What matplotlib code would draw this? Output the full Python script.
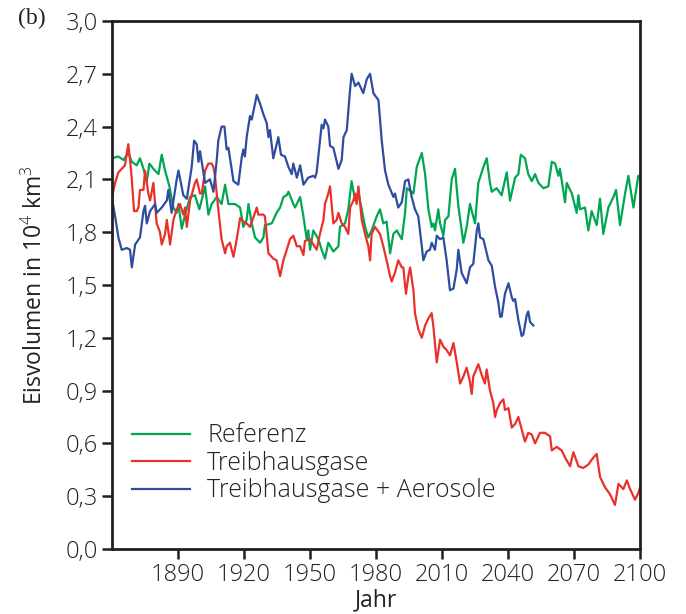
import matplotlib
matplotlib.use("Agg")
import matplotlib.pyplot as plt
from matplotlib.ticker import FuncFormatter

# (year, ice volume in 10^4 km^3)
referenz = [
    (1860, 2.22), (1862.9, 2.23), (1865.2, 2.21), (1867.4, 2.25), (1869.0, 2.20), (1871.2, 2.18),
    (1872.7, 2.22), (1874.3, 2.16), (1875.8, 2.09), (1877.0, 2.19), (1878.8, 2.16), (1881.1, 2.13),
    (1882.6, 2.24), (1884.1, 2.15), (1886.1, 2.06), (1887.9, 1.94), (1889.4, 1.91), (1890.2, 1.96),
    (1891.7, 1.82), (1893.2, 1.90), (1895.5, 2.00), (1897.7, 2.01), (1899.7, 1.93), (1902.3, 2.06),
    (1903.8, 1.90), (1905.3, 1.96), (1907.6, 2.00), (1909.8, 1.96), (1911.4, 2.07), (1912.9, 1.96),
    (1915.9, 1.96), (1918.2, 1.94), (1919.7, 1.83), (1921.2, 1.87), (1922.0, 1.96), (1923.5, 1.85),
    (1925.0, 1.77), (1927.3, 1.74), (1928.8, 1.77), (1929.5, 1.84), (1932.6, 1.85), (1934.8, 1.91),
    (1936.4, 1.94), (1937.9, 2.00), (1939.4, 2.01), (1940.2, 2.03), (1942.4, 1.96), (1943.2, 1.94),
    (1945.5, 2.00), (1947.0, 1.89), (1948.5, 1.76), (1949.2, 1.81), (1950.0, 1.70), (1951.5, 1.81),
    (1953.8, 1.76), (1955.3, 1.70), (1956.8, 1.65), (1958.3, 1.74), (1960.6, 1.69), (1962.9, 1.72),
    (1963.6, 1.83), (1965.9, 1.85), (1967.4, 1.93), (1968.9, 2.09), (1970.5, 1.98), (1972.0, 2.02),
    (1973.5, 1.93), (1975.0, 1.83), (1976.5, 1.77), (1978.0, 1.81), (1980.3, 1.89), (1981.8, 1.93),
    (1983.3, 1.85), (1984.8, 1.86), (1986.4, 1.68), (1987.9, 1.79), (1989.4, 1.81), (1991.7, 1.76),
    (1993.2, 1.91), (1994.0, 2.05), (1997.0, 2.02), (1998.5, 2.17), (2000.8, 2.25), (2002.3, 2.13),
    (2003.8, 1.93), (2005.3, 1.83), (2006.1, 1.85), (2006.8, 1.81), (2008.3, 1.93), (2009.1, 1.85),
    (2010.6, 1.78), (2011.4, 1.87), (2012.9, 1.89), (2014.4, 2.10), (2015.9, 2.16), (2017.4, 1.95),
    (2019.7, 1.74), (2021.2, 1.83), (2022.7, 1.96), (2025.0, 1.85), (2026.5, 2.08), (2028.8, 2.17),
    (2030.3, 2.22), (2031.8, 2.08), (2032.6, 2.03), (2034.8, 2.05), (2037.1, 2.01), (2039.4, 2.14),
    (2040.9, 1.98), (2043.2, 2.11), (2044.7, 2.13), (2045.8, 2.24), (2047.7, 2.22), (2049.2, 2.13),
    (2050.8, 2.09), (2052.3, 2.13), (2053.8, 2.08), (2056.1, 2.05), (2058.3, 2.06), (2059.9, 2.20),
    (2061.4, 2.19), (2062.9, 2.12), (2063.6, 2.16), (2065.9, 1.97), (2066.7, 2.08), (2069.0, 2.02),
    (2071.2, 1.91), (2072.0, 2.01), (2072.7, 1.93), (2075.0, 1.94), (2076.5, 1.81), (2078.0, 1.92),
    (2080.3, 1.84), (2081.8, 1.99), (2083.3, 1.79), (2085.6, 1.94), (2087.9, 2.00), (2089.1, 2.04),
    (2090.9, 1.84), (2093.2, 2.02), (2094.7, 2.12), (2097.0, 1.94), (2099.2, 2.12), (2100.0, 2.12),
]

treibhausgase = [
    (1860, 2.00), (1861.4, 2.08), (1862.9, 2.14), (1864.4, 2.16), (1865.9, 2.18), (1866.7, 2.25),
    (1867.4, 2.30), (1868.2, 2.21), (1869.0, 2.10), (1870.0, 1.92), (1871.2, 1.92), (1872.0, 1.94),
    (1872.7, 2.04), (1874.3, 2.04), (1875.0, 2.15), (1876.5, 2.02), (1877.3, 1.98), (1878.8, 2.08),
    (1880.3, 1.85), (1881.8, 1.80), (1882.6, 1.73), (1884.1, 1.79), (1884.9, 1.87), (1886.4, 1.73),
    (1887.9, 1.87), (1889.4, 1.93), (1890.9, 1.96), (1892.4, 1.90), (1893.2, 1.94), (1894.0, 1.83),
    (1895.5, 1.98), (1897.7, 2.08), (1898.5, 2.10), (1900.0, 2.02), (1900.8, 2.02), (1902.3, 2.15),
    (1903.8, 2.19), (1905.3, 2.19), (1906.1, 2.17), (1906.8, 2.12), (1907.6, 2.02), (1908.3, 1.93),
    (1909.8, 1.76), (1911.4, 1.68), (1912.1, 1.72), (1913.6, 1.74), (1915.2, 1.66), (1916.7, 1.76),
    (1918.2, 1.88), (1919.7, 1.86), (1921.2, 1.85), (1922.7, 1.83), (1925.0, 1.91), (1925.8, 1.94),
    (1926.5, 1.90), (1928.8, 1.90), (1929.5, 1.89), (1931.1, 1.68), (1933.3, 1.65), (1934.8, 1.64),
    (1936.4, 1.55), (1937.9, 1.64), (1939.4, 1.70), (1940.9, 1.76), (1942.4, 1.78), (1944.0, 1.72),
    (1945.5, 1.72), (1947.0, 1.67), (1947.7, 1.75), (1950.0, 1.76), (1953.0, 1.70), (1954.5, 1.79),
    (1956.1, 1.87), (1956.8, 1.96), (1958.3, 2.02), (1959.1, 2.06), (1960.6, 1.85), (1962.1, 1.87),
    (1962.9, 1.91), (1964.4, 1.85), (1965.9, 1.83), (1967.4, 1.79), (1968.2, 1.94), (1969.7, 1.98),
    (1970.5, 2.02), (1971.2, 1.96), (1972.0, 2.06), (1973.5, 1.87), (1975.0, 1.79), (1976.5, 1.72),
    (1977.3, 1.64), (1978.0, 1.79), (1979.5, 1.83), (1981.8, 1.79), (1983.3, 1.72), (1984.8, 1.64),
    (1986.4, 1.55), (1987.1, 1.52), (1988.6, 1.57), (1990.1, 1.64), (1990.9, 1.62), (1991.7, 1.60),
    (1992.4, 1.60), (1993.6, 1.45), (1994.7, 1.55), (1995.5, 1.60), (1997.0, 1.47), (1997.7, 1.34),
    (1999.2, 1.25), (2000.8, 1.20), (2002.3, 1.27), (2003.8, 1.31), (2005.3, 1.34), (2006.1, 1.26),
    (2007.6, 1.06), (2009.1, 1.19), (2010.6, 1.15), (2012.1, 1.13), (2013.6, 1.10), (2015.2, 1.17),
    (2016.7, 1.06), (2018.2, 0.94), (2019.7, 0.98), (2021.2, 1.03), (2022.7, 0.95), (2023.5, 0.88),
    (2024.2, 0.98), (2026.5, 1.05), (2028.0, 0.99), (2029.5, 0.94), (2030.3, 1.02), (2031.8, 0.90),
    (2033.3, 0.83), (2034.1, 0.75), (2034.9, 0.79), (2036.4, 0.83), (2037.9, 0.85), (2038.6, 0.79),
    (2040.2, 0.80), (2041.7, 0.69), (2043.2, 0.71), (2044.7, 0.75), (2046.2, 0.68), (2047.7, 0.61),
    (2049.2, 0.66), (2050.8, 0.65), (2052.3, 0.60), (2054.5, 0.66), (2056.8, 0.66), (2059.1, 0.64),
    (2059.9, 0.56), (2062.1, 0.58), (2064.4, 0.56), (2065.9, 0.52), (2068.2, 0.47), (2069.7, 0.55),
    (2072.0, 0.47), (2074.2, 0.46), (2076.5, 0.48), (2078.8, 0.52), (2080.3, 0.54), (2081.8, 0.41),
    (2084.1, 0.35), (2086.4, 0.31), (2088.6, 0.25), (2090.2, 0.37), (2092.4, 0.34), (2094.0, 0.39),
    (2095.5, 0.34), (2097.7, 0.28), (2099.3, 0.32), (2100.0, 0.35),
]

aerosole = [
    (1860, 1.99), (1861.4, 1.89), (1862.9, 1.77), (1864.4, 1.70), (1866.7, 1.71), (1868.2, 1.70),
    (1869.0, 1.60), (1870.5, 1.73), (1872.7, 1.77), (1874.3, 1.92), (1875.0, 1.95), (1875.8, 1.85),
    (1877.3, 1.92), (1879.6, 1.96), (1880.3, 1.91), (1882.6, 1.94), (1884.9, 1.98), (1885.6, 2.04),
    (1887.1, 1.91), (1889.4, 2.10), (1890.2, 2.15), (1892.4, 2.01), (1894.0, 1.99), (1896.2, 2.17),
    (1897.3, 2.32), (1898.5, 2.30), (1899.3, 2.20), (1900.0, 2.26), (1902.3, 2.08), (1904.5, 2.10),
    (1906.1, 2.03), (1907.6, 2.21), (1908.3, 2.32), (1909.8, 2.40), (1911.1, 2.40), (1912.1, 2.27),
    (1912.9, 2.28), (1915.2, 2.09), (1917.4, 2.07), (1919.0, 2.23), (1919.7, 2.27), (1920.4, 2.23),
    (1921.2, 2.34), (1922.7, 2.46), (1923.5, 2.44), (1925.0, 2.53), (1925.8, 2.58), (1927.3, 2.53),
    (1928.8, 2.47), (1930.3, 2.42), (1931.1, 2.34), (1931.8, 2.38), (1933.3, 2.22), (1934.8, 2.30),
    (1935.6, 2.34), (1936.8, 2.24), (1938.6, 2.23), (1940.2, 2.17), (1941.7, 2.13), (1942.4, 2.19),
    (1944.0, 2.11), (1945.5, 2.18), (1947.0, 2.07), (1949.2, 2.11), (1951.5, 2.12), (1952.3, 2.11),
    (1953.0, 2.14), (1954.5, 2.32), (1955.3, 2.41), (1956.1, 2.39), (1956.8, 2.44), (1958.3, 2.40),
    (1959.1, 2.29), (1960.6, 2.28), (1962.9, 2.16), (1964.4, 2.21), (1965.2, 2.34), (1966.7, 2.38),
    (1968.2, 2.61), (1968.9, 2.70), (1970.5, 2.63), (1972.0, 2.65), (1974.2, 2.59), (1975.8, 2.67),
    (1977.3, 2.70), (1978.8, 2.59), (1981.1, 2.55), (1982.6, 2.32), (1984.1, 2.15), (1985.6, 2.07),
    (1987.9, 2.00), (1988.6, 2.02), (1990.1, 1.94), (1991.7, 1.97), (1993.2, 2.09), (1994.7, 2.10),
    (1996.2, 2.00), (1997.7, 1.93), (1999.2, 1.89), (2000.8, 1.72), (2001.5, 1.64), (2003.0, 1.69),
    (2004.5, 1.70), (2005.3, 1.74), (2006.8, 1.70), (2007.6, 1.78), (2009.1, 1.76), (2010.6, 1.77),
    (2012.1, 1.64), (2013.6, 1.47), (2015.2, 1.48), (2016.7, 1.59), (2017.4, 1.70), (2018.9, 1.57),
    (2021.2, 1.51), (2022.7, 1.60), (2024.2, 1.62), (2025.8, 1.81), (2026.5, 1.85), (2027.3, 1.77),
    (2028.8, 1.76), (2031.1, 1.64), (2032.6, 1.61), (2034.1, 1.49), (2035.6, 1.40), (2036.4, 1.32),
    (2037.1, 1.32), (2038.6, 1.45), (2040.2, 1.51), (2041.7, 1.43), (2042.4, 1.41), (2043.2, 1.42),
    (2044.7, 1.30), (2046.2, 1.21), (2047.0, 1.22), (2048.5, 1.33), (2049.2, 1.35), (2050.0, 1.29),
    (2051.5, 1.27),
]

x_ticks = [1890, 1920, 1950, 1980, 2010, 2040, 2070, 2100]
y_ticks = [0.0, 0.3, 0.6, 0.9, 1.2, 1.5, 1.8, 2.1, 2.4, 2.7, 3.0]

plt.rcParams['font.family'] = ['Open Sans', 'DejaVu Sans']
plt.rcParams['font.weight'] = 'light'
plt.rcParams['mathtext.fontset'] = 'custom'
plt.rcParams['mathtext.rm'] = 'Open Sans:light'

dark = '#231f20'
txt = '#222222'
fig = plt.figure(figsize=(6.86, 6.14), dpi=100)
ax = fig.add_axes([0.1633, 0.1059, 0.7697, 0.8599])

series = [
    (referenz, '#00a651', 'Referenz'),
    (treibhausgase, '#e8312a', 'Treibhausgase'),
    (aerosole, '#2e4da0', 'Treibhausgase + Aerosole'),
]
for data, color, label in series:
    yrs, vals = zip(*data)
    ax.plot(yrs, vals, color=color, linewidth=1.6, label=label)

ax.set_xlim(1860, 2100)
ax.set_ylim(0, 3.0)
ax.set_xticks(x_ticks)
ax.set_yticks(y_ticks)
ax.yaxis.set_major_formatter(FuncFormatter(lambda v, p: f"{v:.1f}".replace('.', ',')))

for s in ax.spines.values():
    s.set_linewidth(2)
    s.set_color(dark)
ax.tick_params(direction='out', length=7, width=1.8, color=dark,
               labelsize=17, labelcolor=txt, pad=3)
ax.tick_params(axis='x', pad=3)

ax.set_xlabel('Jahr', fontsize=16.5, color=txt, labelpad=1)
ax.set_ylabel('Eisvolumen in 10$^4$ km$^3$', fontsize=16.5, color=txt, labelpad=13)

fig.text(0.026, 0.970, '(b)', fontsize=17, family='Liberation Serif', weight='normal',
         va='center', color=txt)

ax.legend(loc='upper left', bbox_to_anchor=(0.038, 0.238), frameon=False,
          fontsize=18, handlelength=2.3, handletextpad=0.7, labelspacing=0.1,
          borderaxespad=0, borderpad=0, labelcolor=txt)

fig.savefig('out.png', dpi=100)
